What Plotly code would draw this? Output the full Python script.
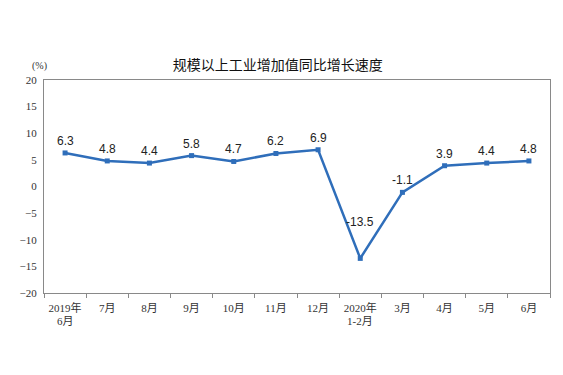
import plotly.graph_objects as go

categories = ["2019年6月", "7月", "8月", "9月", "10月", "11月", "12月",
              "2020年1-2月", "3月", "4月", "5月", "6月"]
tick_line1 = ["2019年", "7月", "8月", "9月", "10月", "11月", "12月",
              "2020年", "3月", "4月", "5月", "6月"]
tick_line2 = ["6月", "", "", "", "", "", "", "1-2月", "", "", "", ""]
values = [6.3, 4.8, 4.4, 5.8, 4.7, 6.2, 6.9, -13.5, -1.1, 3.9, 4.4, 4.8]
labels = ["6.3", "4.8", "4.4", "5.8", "4.7", "6.2", "6.9", "-13.5", "-1.1", "3.9", "4.4", "4.8"]
label_shift = [12, 12, 12, 12, 12, 12, 12, 36, 12, 12, 12, 12]
y_ticks = [20, 15, 10, 5, 0, -5, -10, -15, -20]

tick_font = dict(family="Liberation Serif, Noto Sans CJK SC", size=11, color="#333")

fig = go.Figure()
fig.add_trace(go.Scatter(
    x=categories, y=values, mode="lines+markers",
    line=dict(color="#2F6EBA", width=2.5),
    marker=dict(symbol="square", size=5, color="#2F6EBA"),
    hoverinfo="skip", showlegend=False,
))

for c, v, t, s in zip(categories, values, labels, label_shift):
    fig.add_annotation(x=c, y=v, text=t, showarrow=False, yshift=s,
                       font=dict(family="Liberation Sans, Arial", size=12, color="#222"))

for c, t in zip(categories, tick_line2):
    if t:
        fig.add_annotation(x=c, xref="x", y=0, yref="paper", text=t, showarrow=False,
                           yanchor="middle", yshift=-28, font=tick_font)

fig.add_annotation(xref="paper", yref="paper", x=-0.008, y=1.066, text="(%)",
                   showarrow=False, xanchor="center", yanchor="middle",
                   font=dict(family="Liberation Serif", size=10, color="#333"))

fig.update_layout(
    width=555, height=367,
    margin=dict(l=27, r=12, t=72, b=82),
    paper_bgcolor="white", plot_bgcolor="white",
    title=dict(text="规模以上工业增加值同比增长速度", x=0.486, xanchor="center",
               y=0.845, yanchor="middle",
               font=dict(family="Noto Sans CJK SC", size=14, color="#111")),
    xaxis=dict(type="category", tickson="boundaries", ticks="outside", ticklen=4,
               tickcolor="#898989", showline=True, linecolor="#898989", linewidth=1,
               mirror=True, showgrid=False, ticklabelstandoff=5,
               tickvals=categories, ticktext=tick_line1, tickfont=tick_font,
               range=[-0.5, 11.5]),
    yaxis=dict(range=[-20, 20], tickvals=y_ticks, showline=True, linecolor="#898989",
               linewidth=1, mirror=True, showgrid=False, zeroline=False, ticks="",
               ticklabelstandoff=4,
               tickfont=dict(family="Liberation Serif", size=11, color="#333")),
)

fig.write_html("out.html")
